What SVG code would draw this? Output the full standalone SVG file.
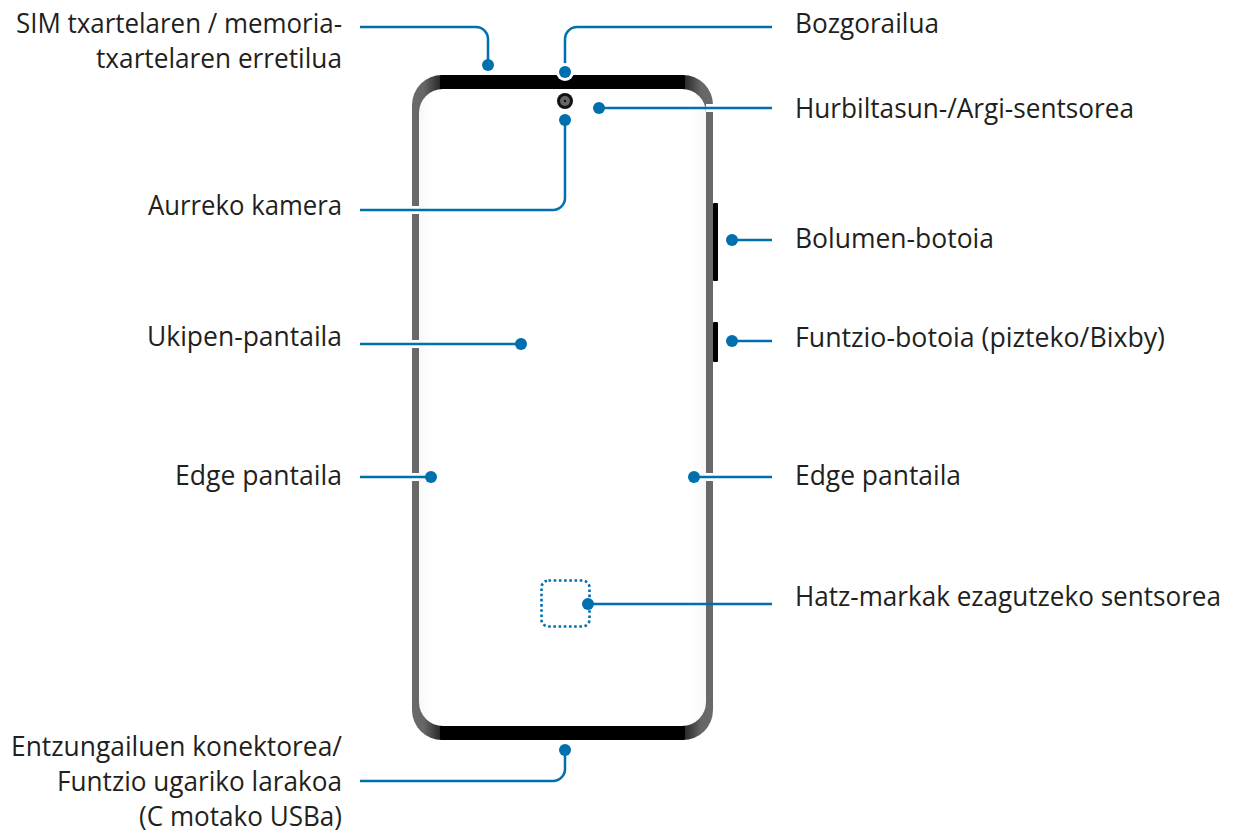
<svg xmlns="http://www.w3.org/2000/svg" width="1237" height="833" viewBox="0 0 1237 833">
<style>
.t{font-family:"Open Sans","Noto Sans","Liberation Sans",sans-serif;font-size:27px;fill:#231f20}
.l{fill:none;stroke:#006fad;stroke-width:2.5}
.h{fill:none;stroke:#fff;stroke-width:8}
.d{fill:#006fad}
</style>
<defs>
<linearGradient id="bz" gradientUnits="userSpaceOnUse" x1="412" y1="0" x2="713" y2="0">
<stop offset="0" stop-color="#6a6a6a"/><stop offset="0.04" stop-color="#666"/><stop offset="0.093" stop-color="#2a2a2a"/><stop offset="0.0935" stop-color="#000"/><stop offset="0.9065" stop-color="#000"/><stop offset="0.907" stop-color="#2a2a2a"/><stop offset="0.96" stop-color="#666"/><stop offset="1" stop-color="#6a6a6a"/>
</linearGradient>
<linearGradient id="sc" gradientUnits="userSpaceOnUse" x1="419" y1="0" x2="706" y2="0">
<stop offset="0" stop-color="#f8f8f8"/><stop offset="0.05" stop-color="#fff"/><stop offset="0.95" stop-color="#fff"/><stop offset="1" stop-color="#f8f8f8"/>
</linearGradient>
</defs>
<g id="phone">
<rect x="713" y="203" width="5" height="78" rx="1" fill="#000"/>
<rect x="713" y="322" width="5" height="40" rx="1" fill="#000"/>
<rect x="412" y="75" width="301" height="665" rx="30" ry="30" fill="url(#bz)"/>
<rect x="419" y="89" width="287" height="637" rx="24" ry="24" fill="url(#sc)"/>
<circle cx="565" cy="101" r="8" fill="#111"/>
<circle cx="565" cy="101" r="5" fill="#666"/>
<circle cx="565" cy="101" r="1.2" fill="#111"/>
<rect x="541.5" y="580.5" width="48" height="46" rx="7" fill="none" stroke="#006fad" stroke-width="2.6" stroke-dasharray="2.6 2.6"/>
</g>
<g id="connectors">
<path class="h" d="M405 210H419M405 344H419M405 477H419M706 477H713M706 108H713M580 604H596"/>
<path class="l" d="M360 27H476A12 12 0 0 1 488 39V65"/>
<path class="l" d="M772 27H577A12 12 0 0 0 565 39V72"/>
<path class="l" d="M772 108H600"/>
<path class="l" d="M360 210H553A12 12 0 0 0 565 198V120"/>
<path class="l" d="M772 240H732"/>
<path class="l" d="M772 341H732"/>
<path class="l" d="M360 344H521"/>
<path class="l" d="M360 477H431"/>
<path class="l" d="M772 477H694"/>
<path class="l" d="M772 604H588"/>
<path class="l" d="M360 781H553A12 12 0 0 0 565 769V750"/>
<circle cx="565" cy="72" r="9" fill="#fff"/>
<circle class="d" cx="488" cy="65" r="6"/>
<circle class="d" cx="565" cy="72" r="6"/>
<circle class="d" cx="599" cy="108" r="6"/>
<circle class="d" cx="565" cy="120" r="6"/>
<circle class="d" cx="732" cy="240" r="6"/>
<circle class="d" cx="732" cy="341" r="6"/>
<circle class="d" cx="521" cy="344" r="6"/>
<circle class="d" cx="431" cy="477" r="6"/>
<circle class="d" cx="694" cy="477" r="6"/>
<circle class="d" cx="588" cy="604" r="6"/>
<circle class="d" cx="565" cy="750" r="6"/>
</g>
<g id="labels">
<text class="t" x="16" y="33" textLength="326" lengthAdjust="spacingAndGlyphs">SIM txartelaren / memoria-</text>
<text class="t" x="96" y="68" textLength="246" lengthAdjust="spacingAndGlyphs">txartelaren erretilua</text>
<text class="t" x="148" y="215" textLength="194" lengthAdjust="spacingAndGlyphs">Aurreko kamera</text>
<text class="t" x="147" y="346" textLength="195" lengthAdjust="spacingAndGlyphs">Ukipen-pantaila</text>
<text class="t" x="175" y="485" textLength="167" lengthAdjust="spacingAndGlyphs">Edge pantaila</text>
<text class="t" x="11" y="756" textLength="331" lengthAdjust="spacingAndGlyphs">Entzungailuen konektorea/</text>
<text class="t" x="57" y="791" textLength="285" lengthAdjust="spacingAndGlyphs">Funtzio ugariko larakoa</text>
<text class="t" x="139" y="826" textLength="203" lengthAdjust="spacingAndGlyphs">(C motako USBa)</text>
<text class="t" x="795" y="33" textLength="144" lengthAdjust="spacingAndGlyphs">Bozgorailua</text>
<text class="t" x="795" y="118" textLength="339" lengthAdjust="spacingAndGlyphs">Hurbiltasun-/Argi-sentsorea</text>
<text class="t" x="795" y="248" textLength="199" lengthAdjust="spacingAndGlyphs">Bolumen-botoia</text>
<text class="t" x="795" y="347" textLength="370" lengthAdjust="spacingAndGlyphs">Funtzio-botoia (pizteko/Bixby)</text>
<text class="t" x="795" y="485" textLength="166" lengthAdjust="spacingAndGlyphs">Edge pantaila</text>
<text class="t" x="795" y="606" textLength="426" lengthAdjust="spacingAndGlyphs">Hatz-markak ezagutzeko sentsorea</text>
</g>
</svg>
